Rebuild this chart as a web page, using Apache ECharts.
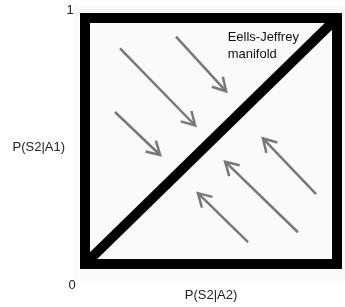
<!DOCTYPE html>
<html>
<head>
<meta charset="utf-8">
<script src="https://cdn.jsdelivr.net/npm/echarts@6/dist/echarts.min.js"></script>
<style>
  html, body { margin: 0; padding: 0; background: #fff; }
  #main { width: 345px; height: 307px; }
</style>
</head>
<body>
<div id="main"></div>
<script>
    // arrows: start x, start y, end x, end y (data units, 0..1)
    var arrowsDown = [
        [0.139, 0.877, 0.437, 0.563],
        [0.119, 0.618, 0.298, 0.443],
        [0.361, 0.924, 0.560, 0.702]
    ];
    var arrowsUp = [
        [0.917, 0.284, 0.706, 0.511],
        [0.845, 0.129, 0.556, 0.416],
        [0.647, 0.089, 0.448, 0.288]
    ];
    var manifold = [[0, 0], [1, 1]];
    var tickLabels = ['0', '1'];
    var xName = 'P(S2|A2)';
    var yName = 'P(S2|A1)';
    var manifoldName = 'Eells-Jeffrey\nmanifold';

    var font = '"Liberation Sans", Arial, sans-serif';
    var myChart = echarts.init(document.getElementById('main'));

    function renderArrow(params, api) {
        var p0 = api.coord([api.value(0), api.value(1)]);
        var p1 = api.coord([api.value(2), api.value(3)]);
        var ang = Math.atan2(p0[1] - p1[1], p0[0] - p1[0]);
        var len = 15, spread = Math.PI / 6;
        var w1 = [p1[0] + len * Math.cos(ang + spread), p1[1] + len * Math.sin(ang + spread)];
        var w2 = [p1[0] + len * Math.cos(ang - spread), p1[1] + len * Math.sin(ang - spread)];
        var st = { stroke: '#787878', lineWidth: 2.5, fill: null, lineCap: 'butt', lineJoin: 'miter' };
        return {
            type: 'group',
            children: [
                { type: 'line', shape: { x1: p0[0], y1: p0[1], x2: p1[0], y2: p1[1] }, style: st },
                { type: 'polyline', shape: { points: [w1, p1, w2] }, style: st }
            ]
        };
    }

    myChart.setOption({
        animation: false,
        backgroundColor: '#fff',
        grid: {
            left: 85, top: 18, width: 252, height: 251.5,
            show: true,
            backgroundColor: '#fafafa',
            borderColor: '#000',
            borderWidth: 10
        },
        xAxis: {
            type: 'value', min: 0, max: 1,
            axisLine: { show: false }, axisTick: { show: false },
            axisLabel: { show: false }, splitLine: { show: false },
            name: xName, nameLocation: 'middle', nameGap: 25,
            nameTextStyle: { color: '#222', fontSize: 13, fontFamily: font }
        },
        yAxis: {
            type: 'value', min: 0, max: 1,
            axisLine: { show: false }, axisTick: { show: false },
            axisLabel: { show: false }, splitLine: { show: false },
            name: yName, nameLocation: 'middle', nameGap: 20, nameRotate: 0,
            nameTextStyle: { color: '#222', fontSize: 13, fontFamily: font, align: 'right', verticalAlign: 'top' }
        },
        series: [
            {
                type: 'line',
                data: manifold,
                symbol: 'none',
                lineStyle: { color: '#000', width: 10 },
                z: 3
            },
            {
                type: 'custom',
                data: arrowsDown.concat(arrowsUp),
                renderItem: renderArrow,
                clip: false,
                z: 4
            }
        ]
    });

    // corner tick labels and manifold note, placed from the axes
    var pZero = myChart.convertToPixel({ gridIndex: 0 }, [0, 0]);
    var pOne = myChart.convertToPixel({ gridIndex: 0 }, [0, 1]);
    var pNote = myChart.convertToPixel({ gridIndex: 0 }, [0.566, 0.957]);
    myChart.setOption({
        graphic: [
            {
                type: 'rect', z: -10, silent: true,
                shape: { x: 73, y: 5, width: 272, height: 276 },
                style: { fill: '#fafafa' }
            },
            {
                type: 'text', z: 10, x: pZero[0] - 13, y: pZero[1] + 21,
                style: { text: tickLabels[0], fill: '#222', font: '13px ' + font, align: 'center', verticalAlign: 'middle' }
            },
            {
                type: 'text', z: 10, x: pOne[0] - 15, y: pOne[1] - 8,
                style: { text: tickLabels[1], fill: '#222', font: '13px ' + font, align: 'center', verticalAlign: 'middle' }
            },
            {
                type: 'text', z: 10, x: pNote[0], y: pNote[1],
                style: { text: manifoldName, fill: '#111', font: '13px ' + font, align: 'left', verticalAlign: 'top', lineHeight: 17 }
            }
        ]
    });
</script>
</body>
</html>
